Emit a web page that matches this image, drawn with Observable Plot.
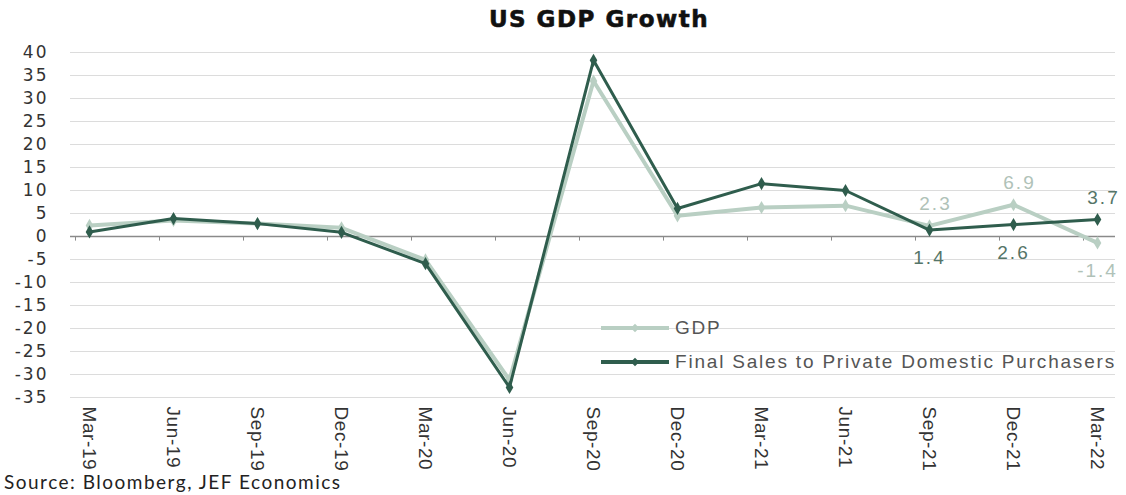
<!DOCTYPE html>
<html>
<head>
<meta charset="utf-8">
<script src="https://cdn.jsdelivr.net/npm/d3@7"></script>
<script src="https://cdn.jsdelivr.net/npm/@observablehq/plot@0.6"></script>
<style>
  html, body { margin: 0; padding: 0; background: #fff; }
  #wrap { position: relative; width: 1126px; height: 495px; overflow: hidden; font-family: "Open Sans", Lato, sans-serif; }
  #title { position: absolute; left: 36px; top: 6px; width: 1126px; text-align: center; font-family: "DejaVu Sans", sans-serif; font-weight: bold; font-size: 23px; letter-spacing: 1.5px; color: #111; -webkit-text-stroke: 0.6px #111; }
  #chart { position: absolute; left: 0; top: 40px; }
  #legend { position: absolute; left: 601px; top: 311px; font-family: "Liberation Sans", Arial, sans-serif; font-size: 19px; letter-spacing: 1.8px; color: #555; }
  .lrow { display: flex; align-items: center; height: 34px; }
  .lsw { position: relative; width: 68px; height: 10px; margin-right: 6px; }
  .lsw .ln { position: absolute; left: 0; right: 0; top: 3px; height: 3.5px; }
  .lsw .mk { position: absolute; left: 31px; top: 1.5px; width: 6px; height: 6px; transform: rotate(45deg); }
  #source { position: absolute; left: 4px; top: 470px; font-family: Lato, "Open Sans", sans-serif; font-size: 19px; letter-spacing: 1.5px; color: #222; }
  #chart svg g[aria-label="y-axis tick label"] text { letter-spacing: 2px; }
  #chart svg g[aria-label="x-axis tick label"] text { letter-spacing: 0.6px; }
  #chart svg g[aria-label="text"] text { letter-spacing: 2px; }
</style>
</head>
<body>
<div id="wrap">
  <div id="title">US GDP Growth</div>
  <div id="chart"></div>
  <div id="legend"></div>
  <div id="source">Source: Bloomberg, JEF Economics</div>
</div>
<script>
const quarters = ["Mar-19","Jun-19","Sep-19","Dec-19","Mar-20","Jun-20","Sep-20","Dec-20","Mar-21","Jun-21","Sep-21","Dec-21","Mar-22"];
const gdp = [2.4, 3.5, 2.8, 1.9, -5.1, -31.2, 33.8, 4.5, 6.3, 6.7, 2.3, 6.9, -1.4];
const finalSales = [1.0, 3.9, 2.8, 0.9, -5.9, -32.8, 38.3, 6.1, 11.5, 10.0, 1.4, 2.6, 3.7];
const yTicks = [40, 35, 30, 25, 20, 15, 10, 5, 0, -5, -10, -15, -20, -25, -30, -35];
const seriesNames = ["GDP", "Final Sales to Private Domestic Purchasers"];
const labelQuarters = ["Sep-21", "Dec-21", "Mar-22"];

const colors = {"GDP": "#b9cfc3", "Final Sales to Private Domestic Purchasers": "#2f5d4d"};
const labelColors = {"GDP": "#b0c2b8", "Final Sales to Private Domestic Purchasers": "#557568"};

const rows = [];
quarters.forEach((q, i) => {
  rows.push({q, v: gdp[i], s: seriesNames[0]});
  rows.push({q, v: finalSales[i], s: seriesNames[1]});
});
const gdpRows = rows.filter(d => d.s === seriesNames[0]);
const fsRows = rows.filter(d => d.s === seriesNames[1]);

// label placement: above the point if this series is the higher one at that quarter
const labelRows = rows.filter(d => labelQuarters.includes(d.q)).map(d => {
  const i = quarters.indexOf(d.q);
  const other = d.s === seriesNames[0] ? finalSales[i] : gdp[i];
  return {...d, above: d.v >= other, text: d.v.toFixed(1)};
});

const chart = Plot.plot({
  width: 1126,
  height: 432,
  marginLeft: 70,
  marginRight: 11,
  marginTop: 12,
  marginBottom: 75,
  style: {fontFamily: "'DejaVu Sans', sans-serif", fontSize: "17px", color: "#333", background: "transparent"},
  x: {type: "point", domain: quarters, padding: 0.165, label: null},
  y: {domain: [-35, 40], ticks: yTicks, label: null},
  marks: [
    Plot.ruleY(yTicks.filter(t => t !== 0), {stroke: "#dcdcdc", strokeWidth: 1.2}),
    Plot.ruleY([0], {stroke: "#8a8a8a", strokeWidth: 1.5}),
    Plot.ruleX(quarters, {x: d => d, y1: 0, y2: -1, dx: -14, stroke: "#8a8a8a", strokeWidth: 1}),
    Plot.axisY({ticks: yTicks, tickSize: 0, tickPadding: 22, fontSize: 17, fontFamily: "'DejaVu Sans', sans-serif", tickFormat: d => String(d)}),
    Plot.axisX({tickSize: 0, tickPadding: 9, tickRotate: 90, fontSize: 19, fontFamily: "'Liberation Sans Narrow', 'Liberation Sans', sans-serif"}),
    Plot.line(gdpRows, {x: "q", y: "v", stroke: colors[seriesNames[0]], strokeWidth: 4}),
    Plot.dot(gdpRows, {x: "q", y: "v", symbol: "diamond", r: 4, fill: colors[seriesNames[0]]}),
    Plot.line(fsRows, {x: "q", y: "v", stroke: colors[seriesNames[1]], strokeWidth: 3}),
    Plot.dot(fsRows, {x: "q", y: "v", symbol: "diamond", r: 4, fill: colors[seriesNames[1]]}),
    Plot.text(labelRows.filter(d => d.above), {x: "q", y: "v", text: "text", dy: -22, dx: 6,
      fill: d => labelColors[d.s], fontSize: 19, fontFamily: "'Liberation Sans', Arial, sans-serif"}),
    Plot.text(labelRows.filter(d => !d.above), {x: "q", y: "v", text: "text", dy: 28, dx: 0,
      fill: d => labelColors[d.s], fontSize: 19, fontFamily: "'Liberation Sans', Arial, sans-serif"})
  ]
});
document.getElementById("chart").appendChild(chart);

const legend = document.getElementById("legend");
seriesNames.forEach(name => {
  const row = document.createElement("div");
  row.className = "lrow";
  row.innerHTML = `<div class="lsw"><div class="ln" style="background:${colors[name]}"></div><div class="mk" style="background:${colors[name]}"></div></div><span>${name}</span>`;
  legend.appendChild(row);
});
</script>
</body>
</html>
